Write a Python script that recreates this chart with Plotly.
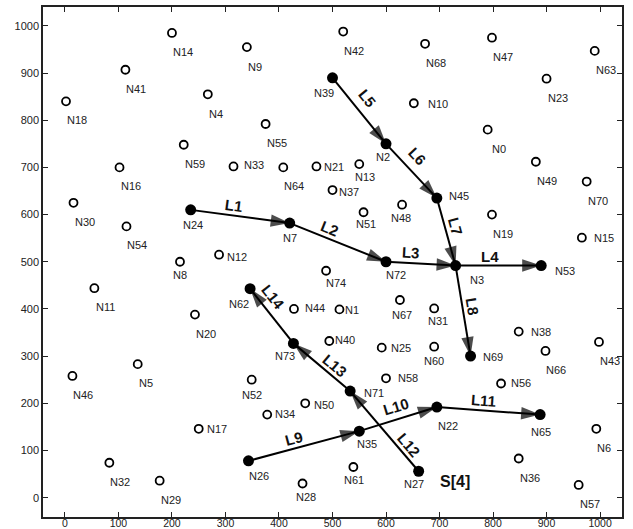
import math
import plotly.graph_objects as go

# ---------------- data ----------------
node_names = ["N0", "N1", "N2", "N3", "N4", "N5", "N6", "N7", "N8", "N9",
              "N10", "N11", "N12", "N13", "N14", "N15", "N16", "N17", "N18", "N19",
              "N20", "N21", "N22", "N23", "N24", "N25", "N26", "N27", "N28", "N29",
              "N30", "N31", "N32", "N33", "N34", "N35", "N36", "N37", "N38", "N39",
              "N40", "N41", "N42", "N43", "N44", "N45", "N46", "N47", "N48", "N49",
              "N50", "N51", "N52", "N53", "N54", "N55", "N56", "N57", "N58", "N59",
              "N60", "N61", "N62", "N63", "N64", "N65", "N66", "N67", "N68", "N69",
              "N70", "N71", "N72", "N73", "N74"]
node_x = [790, 513, 600, 730, 267, 136, 993, 420, 215, 340,
          652, 55, 288, 550, 200, 966, 102, 250, 2, 798,
          243, 470, 695, 900, 235, 592, 343, 661, 444, 177,
          16, 690, 83, 315, 378, 550, 848, 500, 848, 500,
          494, 113, 520, 998, 428, 695, 14, 798, 630, 880,
          449, 558, 349, 890, 115, 375, 815, 960, 600, 222,
          690, 539, 346, 990, 408, 888, 898, 626, 673, 758,
          975, 533, 600, 427, 488]
node_y = [780, 399, 750, 492, 855, 283, 146, 582, 500, 955,
          836, 444, 515, 707, 985, 551, 700, 146, 840, 600,
          388, 702, 192, 888, 610, 318, 78, 56, 30, 36,
          625, 401, 74, 702, 176, 141, 83, 652, 352, 890,
          332, 907, 988, 330, 400, 635, 258, 975, 621, 712,
          200, 605, 250, 492, 575, 792, 242, 27, 253, 748,
          320, 65, 443, 947, 700, 176, 311, 419, 962, 300,
          670, 226, 500, 327, 481]

edge_labels = ["L1", "L2", "L3", "L4", "L5", "L6", "L7",
               "L8", "L9", "L10", "L11", "L12", "L13", "L14"]
edge_from = ["N24", "N7", "N72", "N3", "N39", "N2", "N45",
             "N3", "N26", "N35", "N22", "N27", "N71", "N73"]
edge_to = ["N7", "N72", "N3", "N53", "N2", "N45", "N3",
           "N69", "N35", "N22", "N65", "N71", "N73", "N62"]

set_label = "S[4]"
set_anchor = "N27"

x_ticks = [0, 100, 200, 300, 400, 500, 600, 700, 800, 900, 1000]
y_ticks = [0, 100, 200, 300, 400, 500, 600, 700, 800, 900, 1000]

# ---------------- style ----------------
W, H = 633, 529
ML, MR, MT, MB = 43, 11, 7, 12
XR = [-41, 1041]
YR = [-41, 1040]
ppx = (W - ML - MR) / (XR[1] - XR[0])
ppy = (H - MT - MB) / (YR[1] - YR[0])
FONT = "Liberation Sans, Arial, Helvetica, sans-serif"
INK = "#000000"

# node label placement: (dx px right, dy px down, anchor)
DEFAULT_PLACE = (11, 19, "center")
label_place = {
    "N2": (-3, 13, "center"), "N3": (21, 14, "center"), "N5": (8, 19, "center"),
    "N6": (8, 19, "center"), "N7": (0, 15, "center"), "N8": (0, 13, "center"),
    "N9": (8, 20, "center"), "N13": (6, 13, "center"), "N22": (11, 19, "center"),
    "N24": (2, 15, "center"), "N26": (11, 15, "center"), "N27": (-5, 13, "center"),
    "N28": (3, 13, "center"), "N31": (4, 13, "center"), "N35": (8, 13, "center"),
    "N39": (-9, 15, "center"), "N48": (-1, 13, "center"), "N51": (2, 12, "center"),
    "N52": (0, 15, "center"), "N60": (0, 14, "center"), "N61": (1, 13, "center"),
    "N62": (-11, 15, "center"), "N65": (1, 17, "center"), "N67": (2, 15, "center"),
    "N72": (10, 13, "center"), "N73": (-8, 13, "center"), "N74": (10, 12, "center"),
    "N4": (8, 20, "center"),
    # labels to the right of the marker
    "N1": (4, 1, "left"), "N10": (12, 1, "left"), "N12": (6, 2, "left"),
    "N15": (10, 0, "left"), "N17": (6, 0, "left"), "N21": (6, 1, "left"),
    "N25": (7, 0, "left"), "N33": (8, -1, "left"), "N34": (6, -1, "left"),
    "N37": (4, 2, "left"), "N38": (10, 0, "left"), "N40": (4, -1, "left"),
    "N44": (9, -1, "left"), "N45": (10, -2, "left"), "N50": (7, 2, "left"),
    "N53": (12, 5, "left"), "N56": (8, 0, "left"), "N58": (10, 0, "left"),
    "N69": (10, 1, "left"), "N71": (12, 2, "left"),
}
# edge label offsets from segment midpoint (dx px right, dy px down)
edge_label_shift = {
    "L1": (-6, -11), "L2": (-8, -14), "L3": (-10, -11), "L4": (-8, -9),
    "L5": (8, -12), "L6": (6, -14), "L7": (9, -5), "L8": (9, -4),
    "L9": (-10, -8), "L10": (-2, -13), "L11": (-5, -10), "L12": (25, 14),
    "L13": (13, -2), "L14": (2, -19),
}
set_shift = (36, 10)

# ---------------- build ----------------
pos = {n: (x, y) for n, x, y in zip(node_names, node_x, node_y)}
active = set(edge_from) | set(edge_to)

fig = go.Figure()

for lab, a, b in zip(edge_labels, edge_from, edge_to):
    (x0, y0), (x1, y1) = pos[a], pos[b]
    fig.add_trace(go.Scatter(
        x=[x0, x1], y=[y0, y1], mode="lines+markers",
        line=dict(color=INK, width=2, backoff=0),
        marker=dict(symbol="arrow", size=[0, 20], angleref="previous",
                    color=INK, standoff=0, line=dict(width=0)),
        hoverinfo="skip", showlegend=False))

open_x = [pos[n][0] for n in node_names if n not in active]
open_y = [pos[n][1] for n in node_names if n not in active]
fill_x = [pos[n][0] for n in node_names if n in active]
fill_y = [pos[n][1] for n in node_names if n in active]

fig.add_trace(go.Scatter(
    x=open_x, y=open_y, mode="markers",
    marker=dict(symbol="circle-open", size=8, color=INK, line=dict(width=1.8, color=INK)),
    showlegend=False, hoverinfo="skip"))
fig.add_trace(go.Scatter(
    x=fill_x, y=fill_y, mode="markers",
    marker=dict(symbol="circle", size=11, color=INK, line=dict(width=0)),
    showlegend=False, hoverinfo="skip"))

ann = []
for n in node_names:
    dx, dy, anc = label_place.get(n, DEFAULT_PLACE)
    x, y = pos[n]
    ann.append(dict(x=x, y=y, xref="x", yref="y", text=n, showarrow=False,
                    xanchor=anc, yanchor="middle", xshift=dx, yshift=-dy,
                    font=dict(family=FONT, size=11, color="#222222")))

for lab, a, b in zip(edge_labels, edge_from, edge_to):
    (x0, y0), (x1, y1) = pos[a], pos[b]
    mx, my = (x0 + x1) / 2, (y0 + y1) / 2
    ang = math.degrees(math.atan2(-(y1 - y0) * ppy, (x1 - x0) * ppx))
    if ang > 90:
        ang -= 180
    elif ang <= -90:
        ang += 180
    dx, dy = edge_label_shift[lab]
    ann.append(dict(x=mx, y=my, xref="x", yref="y", text="<b>%s</b>" % lab,
                    showarrow=False, xanchor="center", yanchor="middle",
                    xshift=dx, yshift=-dy, textangle=ang,
                    font=dict(family=FONT, size=15, color="#111111")))

sx, sy = pos[set_anchor]
ann.append(dict(x=sx, y=sy, xref="x", yref="y", text="<b>%s</b>" % set_label,
                showarrow=False, xanchor="center", yanchor="middle",
                xshift=set_shift[0], yshift=-set_shift[1],
                font=dict(family=FONT, size=16, color="#111111")))

axis_common = dict(showgrid=False, zeroline=False, showline=True, linecolor="#222222",
                   linewidth=1.5, mirror="ticks", ticks="inside", ticklen=5,
                   tickwidth=1, tickcolor="#222222", automargin=False,
                   tickfont=dict(family=FONT, size=11, color="#222222"))

x_axis_style = dict(axis_common)
x_axis_style["tickfont"] = dict(family=FONT, size=10.5, color="#222222")

fig.update_layout(
    template="none",
    width=W, height=H,
    margin=dict(l=ML, r=MR, t=MT, b=MB, pad=0),
    paper_bgcolor="white", plot_bgcolor="white",
    xaxis=dict(range=XR, tickvals=x_ticks, ticklabelstandoff=-4, **x_axis_style),
    yaxis=dict(range=YR, tickvals=y_ticks, **axis_common),
    annotations=ann, showlegend=False)

fig.write_html("out.html", config={"displayModeBar": False},
               post_script="document.body.style.margin='0px';document.body.style.overflow='hidden';")
